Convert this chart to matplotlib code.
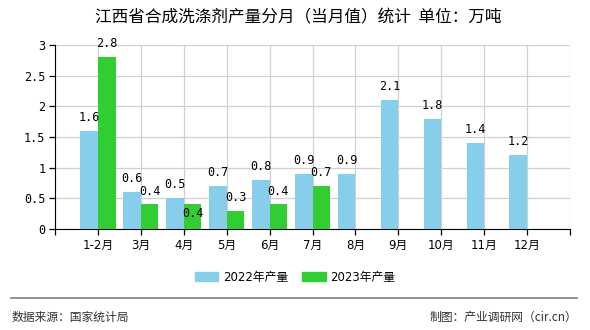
import matplotlib
matplotlib.use('Agg')
import matplotlib.pyplot as plt
from matplotlib.patches import Patch
from matplotlib.lines import Line2D
import numpy as np

plt.rcParams['font.family'] = ['DejaVu Sans', 'Noto Sans CJK SC']

# data
months = ['1-2月', '3月', '4月', '5月', '6月', '7月', '8月', '9月', '10月', '11月', '12月']
prod_2022 = [1.6, 0.6, 0.5, 0.7, 0.8, 0.9, 0.9, 2.1, 1.8, 1.4, 1.2]
prod_2023 = [2.8, 0.4, 0.4, 0.3, 0.4, 0.7]
yticks = [0, 0.5, 1, 1.5, 2, 2.5, 3]
ytick_labels = ['0', '0.5', '1', '1.5', '2', '2.5', '3']

blue = '#87CEEB'
green = '#32CD32'
w = 0.41

fig = plt.figure(figsize=(5.9, 3.3), dpi=100)
ax = fig.add_axes([55 / 590, 1 - 229 / 330, 515 / 590, 184 / 330])

x = np.arange(len(months))
x23 = np.arange(len(prod_2023))
ax.bar(x - w / 2, prod_2022, width=w, color=blue, zorder=3)
ax.bar(x23 + w / 2, prod_2023, width=w, color=green, zorder=3)

# value labels
for xi, v in zip(x, prod_2022):
    ax.annotate(f'{v:.1f}', (xi - w / 2, v), xytext=(0, 5), textcoords='offset points',
                ha='center', va='bottom', fontsize=8.5, family='DejaVu Sans Mono')
for xi, v in zip(x23, prod_2023):
    if xi == 2:
        # this one sits inside the bar in the reference
        ax.text(xi + w / 2, 0.26, f'{v:.1f}', ha='center', va='center', fontsize=8.5,
                family='DejaVu Sans Mono', zorder=4)
    else:
        ax.annotate(f'{v:.1f}', (xi + w / 2, v), xytext=(0, 5), textcoords='offset points',
                    ha='center', va='bottom', fontsize=8.5, family='DejaVu Sans Mono')

ax.set_xlim(-1, len(months))
ax.set_ylim(0, 3)
ax.set_xticks(np.arange(-1, len(months) + 1))
ax.set_xticklabels([''] + months + [''], fontsize=8.5)
ax.set_yticks(yticks)
ax.set_yticklabels(ytick_labels, fontsize=8.5, family='DejaVu Sans Mono')
ax.grid(True, color='#d0d0d0', linewidth=0.9, zorder=0)
for s in ['top', 'right']:
    ax.spines[s].set_visible(False)
ax.spines['left'].set_color('black')
ax.spines['bottom'].set_color('black')
ax.tick_params(axis='both', direction='out', length=4, color='black', width=0.9, pad=3)

fig.text(298 / 590, 1 - 18 / 330, '江西省合成洗涤剂产量分月（当月值）统计  单位：万吨',
         ha='center', va='center', fontsize=12, family='Noto Sans CJK SC')

handles = [Patch(color=blue, label='2022年产量'), Patch(color=green, label='2023年产量')]
fig.legend(handles=handles, loc='center', bbox_to_anchor=(0.5, 1 - 277 / 330), ncol=2,
           frameon=False, fontsize=8.5, handlelength=2.0, handleheight=0.8, columnspacing=1.2,
           handletextpad=0.4)

fig.add_artist(Line2D([11 / 590, 577 / 590], [1 - 298 / 330, 1 - 298 / 330],
                      color='#808080', linewidth=1.2))
fig.text(12 / 590, 1 - 317 / 330, '数据来源：国家统计局', ha='left', va='center',
         fontsize=8.5, color='#333333', family='Noto Sans CJK SC')
fig.text(577 / 590, 1 - 317 / 330, '制图：产业调研网（cir.cn）', ha='right', va='center',
         fontsize=8.5, color='#333333', family='Noto Sans CJK SC')

fig.savefig('out.png', dpi=100)
